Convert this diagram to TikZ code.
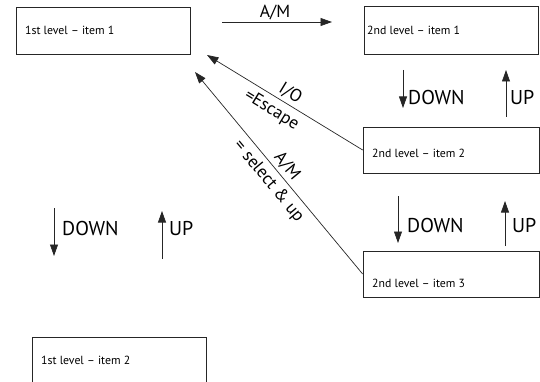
\documentclass[tikz,border=0pt]{standalone}
\usepackage{fontspec}
\setmainfont{PT Sans}
\usetikzlibrary{arrows.meta}
\begin{document}
\begin{tikzpicture}[x=1pt,y=-1pt,
  menubox/.style={draw=black!85,line width=0.7pt,inner sep=0pt},
  boxtext/.style={anchor=west,inner sep=0pt,font=\fontsize{11.8}{13}\selectfont},
  keyarrow/.style={draw=black!85,line width=0.7pt,-{Triangle[length=11.5pt,width=8pt]}},
  keylabel/.style={inner sep=0pt,font=\fontsize{20}{22}\selectfont},
  edgelabel/.style={inner sep=0pt,font=\fontsize{17.5}{19}\selectfont}]
\useasboundingbox (0,0) rectangle (540,382);
\clip (0,0) rectangle (540,382);

% menu boxes
\node[menubox,minimum width=174pt,minimum height=47pt] (l1a) at (103,30.5) {};
\node[menubox,minimum width=174pt,minimum height=48pt] (l2a) at (451,30) {};
\node[menubox,minimum width=176pt,minimum height=46pt] (l2b) at (451,150) {};
\node[menubox,minimum width=176pt,minimum height=46pt] (l2c) at (451,274) {};
\node[menubox,minimum width=174pt,minimum height=70pt] (l1b) at (119,372) {};

% box captions
\node[boxtext] (t1a) at (25,30) {1st level – item 1};
\node[boxtext] (t2a) at (367,30) {2nd level – item 1};
\node[boxtext] (t2b) at (372,153) {2nd level – item 2};
\node[boxtext] (t2c) at (372,283) {2nd level – item 3};
\node[boxtext] (t1b) at (41,360) {1st level – item 2};

% A/M into the second level
\coordinate (am0) at (222,22);
\coordinate (am1) at (332,22);
\draw[keyarrow] (am0) -- (am1);
\node[edgelabel,anchor=base] (amtxt) at (275,18) {A/M};

% vertical key arrows, right column
\coordinate (d1s) at (403,70);  \coordinate (d1e) at (403,108);
\coordinate (u1s) at (506,117); \coordinate (u1e) at (506,70);
\draw[keyarrow] (d1s) -- (d1e);
\draw[keyarrow] (u1s) -- (u1e);
\node[keylabel,anchor=base west] (d1t) at (408,105) {DOWN};
\node[keylabel,anchor=base west] (u1t) at (510,105) {UP};

\coordinate (d2s) at (398,196); \coordinate (d2e) at (398,243);
\coordinate (u2s) at (505,246); \coordinate (u2e) at (505,201);
\draw[keyarrow] (d2s) -- (d2e);
\draw[keyarrow] (u2s) -- (u2e);
\node[keylabel,anchor=base west] (d2t) at (407,232) {DOWN};
\node[keylabel,anchor=base west] (u2t) at (512,232) {UP};

% vertical key arrows, left column
\coordinate (d3s) at (54,208);  \coordinate (d3e) at (54,256);
\coordinate (u3s) at (162,259); \coordinate (u3e) at (162,211);
\draw[keyarrow] (d3s) -- (d3e);
\draw[keyarrow] (u3s) -- (u3e);
\node[keylabel,anchor=base west] (d3t) at (62,235) {DOWN};
\node[keylabel,anchor=base west] (u3t) at (169,235) {UP};

% back to the first level
\coordinate (esc) at (207,55);
\coordinate (sel) at (195,72);
\draw[keyarrow] (l2b.west) -- (esc)
  node[edgelabel,pos=0.5,sloped,above=3pt] (iot) {I/O}
  node[edgelabel,pos=0.54,sloped,below=5.5pt] (esct) {=Escape};
\draw[keyarrow] (l2c.west) -- (sel)
  node[edgelabel,pos=0.5,sloped,above=3pt] (amt2) {A/M}
  node[edgelabel,pos=0.5,sloped,below=5pt] (selt) {= select \& up};
\end{tikzpicture}
\end{document}
